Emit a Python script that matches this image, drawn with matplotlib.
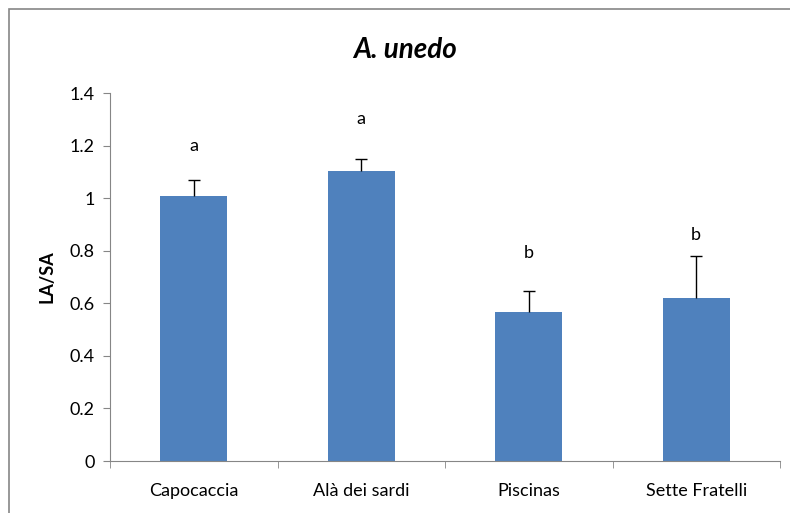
import matplotlib.pyplot as plt
from matplotlib.patches import Rectangle

sites = ["Capocaccia", "Alà dei sardi", "Piscinas", "Sette Fratelli"]
la_sa = [1.01, 1.105, 0.567, 0.622]
err_up = [0.06, 0.045, 0.08, 0.158]
letters = ["a", "a", "b", "b"]
letter_y = [1.20, 1.30, 0.79, 0.86]

BAR = "#4F81BD"
AXIS = "#868686"

plt.rcParams["font.family"] = ["Lato", "DejaVu Sans"]

fig = plt.figure(figsize=(7.9, 5.13), dpi=100)
ax = fig.add_axes([110 / 790, 52 / 513, 670 / 790, 368 / 513])

x = list(range(len(sites)))
ax.bar(x, la_sa, width=0.4, color=BAR, zorder=2)
_, caps, _ = ax.errorbar(x, la_sa, yerr=[[0] * len(x), err_up], fmt="none",
                         ecolor="black", elinewidth=1, capsize=4, capthick=1, zorder=3)
caps[0].set_visible(False)  # only the upper whisker is shown
for xi, lab, ly in zip(x, letters, letter_y):
    ax.text(xi, ly, lab, ha="center", va="center", fontsize=13)

ax.set_xlim(-0.5, len(sites) - 0.5)
ax.set_ylim(0, 1.4)
ax.set_yticks([0, 0.2, 0.4, 0.6, 0.8, 1.0, 1.2, 1.4])
ax.set_yticklabels(["0", "0.2", "0.4", "0.6", "0.8", "1", "1.2", "1.4"], fontsize=13)
ax.set_xticks(x)
ax.set_xticklabels(sites, fontsize=13)
ax.set_xticks([i - 0.5 for i in range(len(sites) + 1)], minor=True)
ax.tick_params(axis="x", which="major", length=0, pad=16)
ax.tick_params(axis="x", which="minor", length=5, color=AXIS, direction="out")
ax.tick_params(axis="y", length=5, color=AXIS, direction="out", pad=6)
ax.spines["top"].set_visible(False)
ax.spines["right"].set_visible(False)
ax.spines["left"].set_color(AXIS)
ax.spines["bottom"].set_color(AXIS)
ax.set_ylabel("LA/SA", fontsize=13, fontweight="bold", labelpad=10)
fig.text(405 / 790, 1 - 50 / 513, "A. unedo", ha="center", va="center",
         fontsize=20, fontweight="bold", style="italic")

fig.patches.append(Rectangle((9 / 790, -0.1), 1.2, (513 - 9) / 513 + 0.1,
                             transform=fig.transFigure, fill=False,
                             edgecolor=AXIS, linewidth=1.2))

fig.savefig("out.png", dpi=100)
